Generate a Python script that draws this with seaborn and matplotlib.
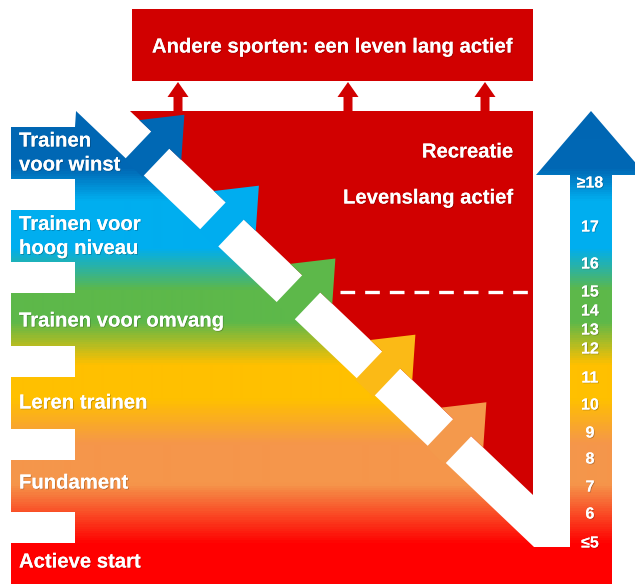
import numpy as np
import matplotlib
matplotlib.use("Agg")
import matplotlib.pyplot as plt
import matplotlib.patheffects as pe
import seaborn as sns
from matplotlib.patches import Polygon, Rectangle, FancyArrow
from matplotlib.colors import LinearSegmentedColormap

sns.set_theme(style="white")
plt.rcParams['font.family'] = ['Liberation Sans', 'DejaVu Sans']

# stages (bottom to top) and ages (bottom to top)
stages = ["Actieve start", "Fundament", "Leren trainen", "Trainen voor omvang",
          "Trainen voor\nhoog niveau", "Trainen\nvoor winst"]
ages = ["≤5", "6", "7", "8", "9", "10", "11", "12", "13", "14", "15", "16", "17", "≥18"]
side_texts = ["Recreatie", "Levenslang actief"]
top_text = "Andere sporten: een leven lang actief"

# arrow colours for the five stage arrows (top to bottom)
arrow_colors = ["#0068B4", "#00ADEF", "#5DB84A", "#FBBA16", "#F4994C"]

# vertical colour gradient (pixel row -> colour)
grad_y = [0, 111, 168, 200, 248, 290, 322, 365, 400, 445, 485, 545, 584]
grad_c = ["#0066B3", "#0066B3", "#0068B5", "#00AEEF", "#00AEEF", "#5DB84A", "#5DB84A",
          "#FFC000", "#FFC000", "#F5964B", "#F5964B", "#FF0000", "#FF0000"]

RED = "#D10000"
W, H = 635, 584

# layout (pixels)
label_y = [562, 483, 403, 321, 236.5, 153]
age_y = [543, 514, 487, 459, 433, 405, 378, 349, 330, 311, 292, 264, 227, 183]
gap_x = [147.5, 222, 298.5, 378.5, 449.5]
small_arrow_x = [178, 348, 485]

slope = 0.952
th = np.arctan(slope)
d = np.array([np.cos(th), np.sin(th)])     # along band (down-right)
n = np.array([np.sin(th), -np.cos(th)])    # normal (up-right)
hw = 18.5
off = hw / np.cos(th)


def cy(x):
    return 153.5 + slope * (x - 147.5)


def lower_x(y):
    return 147.5 + (y - 153.5 - off) / slope


def upper_x(y):
    return 147.5 + (y - 153.5 + off) / slope


fig = plt.figure(figsize=(W / 100, H / 100), dpi=100)
ax = fig.add_axes([0, 0, 1, 1])

cmap = LinearSegmentedColormap.from_list("ltad", list(zip(np.array(grad_y) / H, grad_c)))
grad = cmap(np.linspace(0, 1, H))[:, None, :]
im = ax.imshow(grad, extent=(0, W, H, 0), aspect='auto', interpolation='bilinear', zorder=1)

# gradient outline: stepped tabs, body, age arrow
verts = [(11, 584)]
tab_tops = [543, 460, 377, 293, 210, 127]
for k, t in enumerate(tab_tops):
    verts += [(11, t)]
    if k < len(tab_tops) - 1:
        verts += [(75, t), (75, t - 31), (11, t - 31)]
    else:
        verts += [(75, t)]
verts += [(lower_x(111), 111), (lower_x(547), 547), (570, 547), (570, 175), (536, 175),
          (591, 111), (646, 175), (612, 175), (612, 584)]
clip = Polygon(verts, closed=True, facecolor='none', edgecolor='none', transform=ax.transData)
ax.add_patch(clip)
im.set_clip_path(clip)

# red field above the band
ax.add_patch(Polygon([(upper_x(111), 111), (533, 111), (533, cy(533) - off)],
                     closed=True, facecolor=RED, edgecolor='none', zorder=2))
ax.plot([340, 533], [292, 292], color='white', lw=2.4, ls=(0, (4.4, 3.0)), zorder=3,
        solid_capstyle='butt', dash_capstyle='butt')

# stage arrows crossing the band
for gx, col in zip(gap_x, arrow_colors):
    G = np.array([gx, cy(gx)])
    B = G + hw * n
    pts = [G - 12.5 * d - (hw + 2) * n, G + 12.5 * d - (hw + 2) * n,
           G + 12.5 * d + hw * n, B + 29 * d, B + 35 * n, B - 29 * d,
           G - 12.5 * d + hw * n]
    ax.add_patch(Polygon(pts, closed=True, facecolor=col, edgecolor='none', zorder=4))

# top box and small arrows
ax.add_patch(Rectangle((132, 9), 401, 72, facecolor=RED, edgecolor='none', zorder=2))
for sx in small_arrow_x:
    ax.add_patch(FancyArrow(sx, 111, 0, -29, width=9, head_width=21, head_length=15,
                            length_includes_head=True, facecolor=RED, edgecolor='none', zorder=2))

shadow = [pe.withSimplePatchShadow(offset=(0.6, -0.6), shadow_rgbFace='black', alpha=0.25),
          pe.Normal()]
txt = dict(color='white', fontweight='bold', zorder=6, path_effects=shadow)
ax.text(332, 47, top_text, ha='center', va='center', fontsize=14.6, **txt)
ax.text(513, 152, side_texts[0], ha='right', va='center', fontsize=14.6, **txt)
ax.text(513, 198, side_texts[1], ha='right', va='center', fontsize=14.6, **txt)

for lab, y in zip(stages, label_y):
    lines = lab.split("\n")
    for j, line in enumerate(lines):
        yy = y + (j - (len(lines) - 1) / 2) * 24
        ax.text(19, yy, line, ha='left', va='center', fontsize=14.6, **txt)

for a, y in zip(ages, age_y):
    ax.text(590, y, a, ha='center', va='center', fontsize=11.5, **txt)

ax.set_xlim(0, W)
ax.set_ylim(H, 0)
ax.axis('off')
fig.savefig("out.png", dpi=100, facecolor='white')
